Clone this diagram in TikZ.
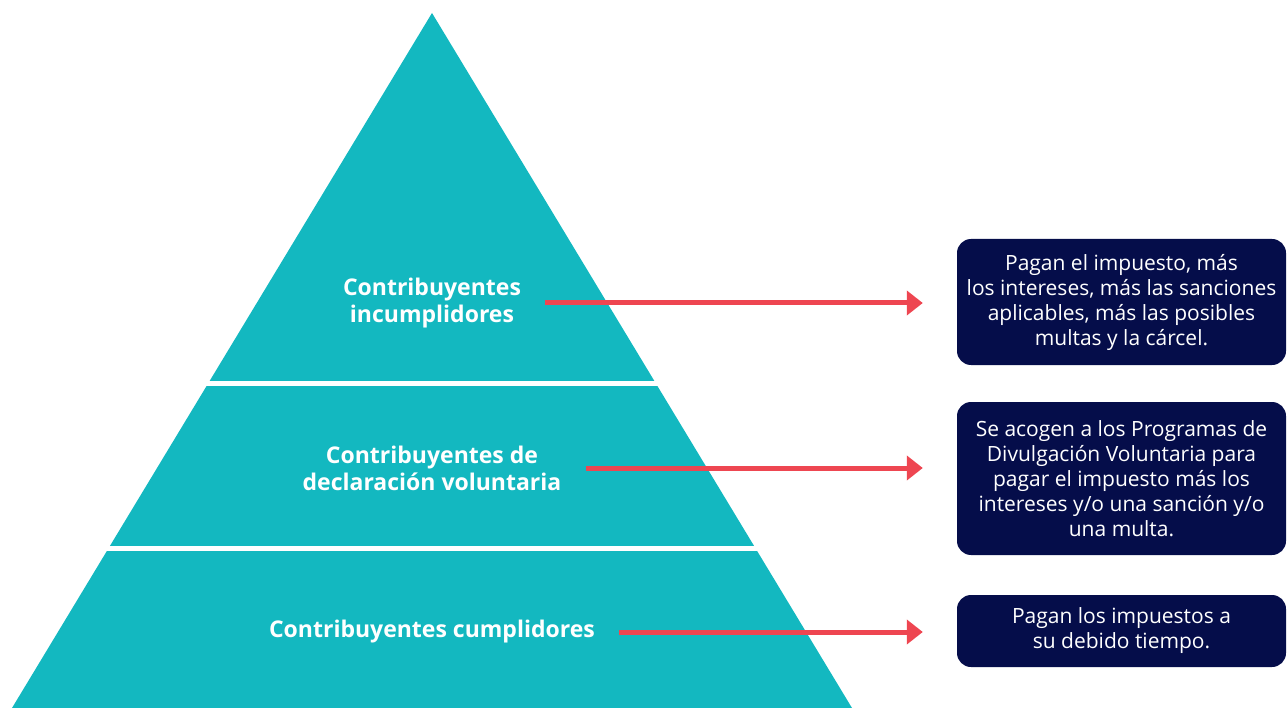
\documentclass[tikz,border=0pt]{standalone}
\usepackage{fontspec}
\setmainfont{Open Sans}
\usetikzlibrary{arrows.meta}
\definecolor{pyrteal}{HTML}{13B8C0}
\definecolor{boxnavy}{HTML}{050D4A}
\definecolor{arrred}{HTML}{EE4651}

\begin{document}
\begin{tikzpicture}[x=1pt,y=-1pt,
  tier/.style={text=white,font=\bfseries\fontsize{23}{27}\selectfont,align=center,inner sep=0pt},
  note/.style={rounded corners=14pt,fill=boxnavy,text=white,font=\fontsize{21}{25}\selectfont,align=center,minimum width=329pt,inner sep=0pt},
  link/.style={draw=arrred,line width=5pt,-{Triangle[length=16pt,width=24pt]},shorten <=24pt,shorten >=34pt}]
  \useasboundingbox (0,0) rectangle (1287,708);
  % pyramid
  \fill[pyrteal] (432,13) -- (852,708) -- (12,708) -- cycle;
  \fill[white] (0,381) rectangle (1287,386);
  \fill[white] (0,546) rectangle (1287,551);
  \node[tier] (t1) at (432,303) {Contribuyentes\\incumplidores};
  \node[tier] (t2) at (432,468) {Contribuyentes de\\declaración voluntaria};
  \node[tier] (t3) at (432,632) {Contribuyentes cumplidores};
  % boxes
  \node[note,minimum height=126pt] (n1) at (1121.5,302) {Pagan el impuesto, más\\los intereses, más las sanciones\\aplicables, más las posibles\\multas y la cárcel.};
  \node[note,minimum height=153pt] (n2) at (1121.5,478.5) {Se acogen a los Programas de\\Divulgación Voluntaria para\\pagar el impuesto más los\\intereses y/o una sanción y/o\\una multa.};
  \node[note,minimum height=72pt] (n3) at (1121.5,631) {Pagan los impuestos a\\su debido tiempo.};
  \draw[link] (t1.east) -- (t1.east -| n1.west);
  \draw[link] (t2.east) -- (t2.east -| n2.west);
  \draw[link] (t3.east) -- (t3.east -| n3.west);
\end{tikzpicture}
\end{document}
